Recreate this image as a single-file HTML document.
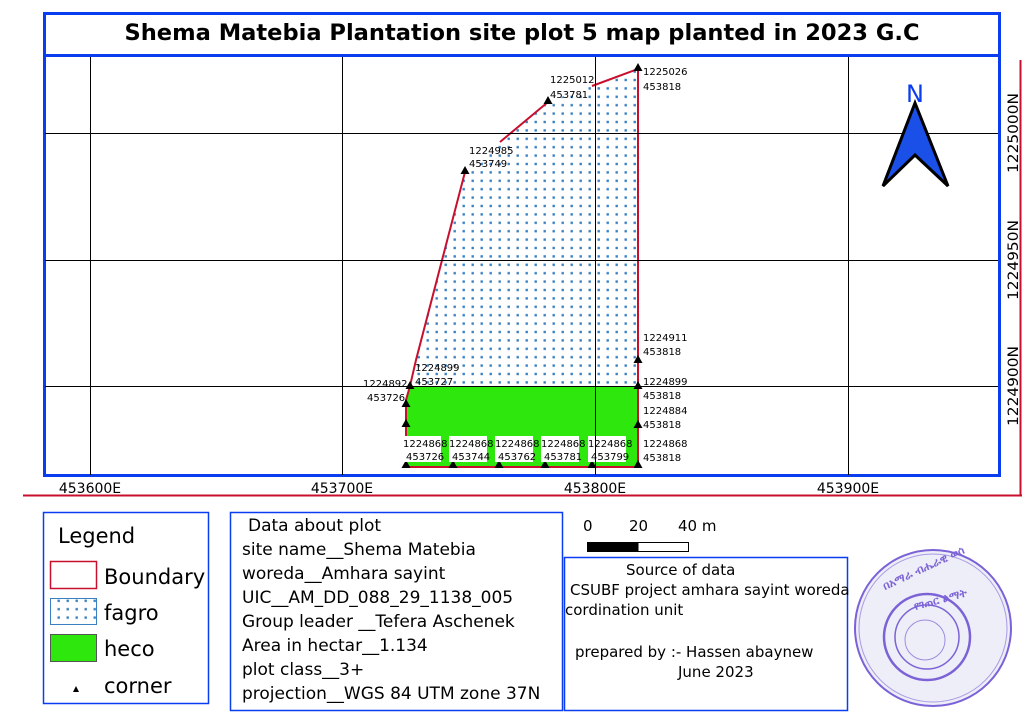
<!DOCTYPE html>
<html><head><meta charset="utf-8"><style>
html,body{margin:0;padding:0;background:#fff;}
svg{display:block;font-family:"DejaVu Sans","Liberation Sans",sans-serif;}
.lb{font-size:10px;fill:#000;}
</style></head><body>
<svg width="1024" height="724" viewBox="0 0 1024 724" xmlns="http://www.w3.org/2000/svg">
<defs>
<pattern id="dots" width="9" height="8.4" patternUnits="userSpaceOnUse">
<rect x="3.5" y="3.2" width="2.4" height="2.4" fill="#3a7fc1"/>
</pattern>
<clipPath id="mc"><rect x="45" y="57" width="953" height="418"/></clipPath>
</defs>
<line x1="23" y1="495.5" x2="1022" y2="495.5" stroke="#c8102e" stroke-width="2"/>
<line x1="1020.5" y1="60" x2="1020.5" y2="496" stroke="#c8102e" stroke-width="2"/>
<rect x="44.5" y="13.5" width="955" height="462" fill="#fff" stroke="#0a3cf0" stroke-width="3"/>
<line x1="44" y1="55.5" x2="1000" y2="55.5" stroke="#0a3cf0" stroke-width="3"/>
<text x="522" y="40" text-anchor="middle" font-size="22" font-weight="bold" fill="#000" textLength="795" lengthAdjust="spacingAndGlyphs">Shema Matebia Plantation site plot 5 map planted in 2023 G.C</text>
<g clip-path="url(#mc)">
<polygon points="410,386 416,360 465,172 548,102 638,69 638,386" fill="url(#dots)"/>
<polygon points="410,387 638,387 638,467 406,467 406,400" fill="#2ee80d"/>
<polyline points="410,386 416,360 465,172" fill="none" stroke="#c8102e" stroke-width="2"/>
<polyline points="500,142 548,102" fill="none" stroke="#c8102e" stroke-width="2"/>
<polyline points="592,86 638,69 638,467 406,467 406,400 410,386" fill="none" stroke="#c8102e" stroke-width="2"/>
<g stroke="#000" stroke-width="1">
<line x1="90.5" y1="57" x2="90.5" y2="475"/><line x1="342.5" y1="57" x2="342.5" y2="475"/>
<line x1="595.5" y1="57" x2="595.5" y2="475"/><line x1="848.5" y1="57" x2="848.5" y2="475"/>
<line x1="45" y1="133.5" x2="998" y2="133.5"/><line x1="45" y1="260.5" x2="998" y2="260.5"/>
<line x1="45" y1="386.5" x2="998" y2="386.5"/>
</g>
<g fill="#000">
<path d="M638,63 l4.5,8 h-9z"/><path d="M548,96 l4.5,8 h-9z"/><path d="M465,166 l4.5,8 h-9z"/>
<path d="M638,355 l4.5,8 h-9z"/><path d="M638,381 l4.5,8 h-9z"/><path d="M638,420 l4.5,8 h-9z"/>
<path d="M638,460 l4.5,8 h-9z"/><path d="M592,460 l4.5,8 h-9z"/><path d="M545,460 l4.5,8 h-9z"/>
<path d="M499,460 l4.5,8 h-9z"/><path d="M453,460 l4.5,8 h-9z"/><path d="M406,460 l4.5,8 h-9z"/>
<path d="M406,419 l4.5,8 h-9z"/><path d="M406,399 l4.5,8 h-9z"/><path d="M410,381 l4.5,8 h-9z"/>
</g>
<g class="lb">
<text x="643" y="75">1225026</text><text x="643" y="90">453818</text>
<text x="550" y="83">1225012</text><text x="550" y="98">453781</text>
<text x="469" y="154">1224985</text><text x="469" y="167">453749</text>
<text x="643" y="341">1224911</text><text x="643" y="355">453818</text>
<text x="415" y="371">1224899</text><text x="415" y="385">453727</text>
<text x="363" y="387">1224892</text><text x="367" y="401">453726</text>
<text x="643" y="385">1224899</text><text x="643" y="399">453818</text>
<text x="643" y="414">1224884</text><text x="643" y="428">453818</text>
<text x="643" y="447">1224868</text><text x="643" y="461">453818</text>
</g>
<g class="lb">
<rect x="403" y="436" width="38" height="26" fill="#fff"/>
<rect x="449" y="436" width="38" height="26" fill="#fff"/>
<rect x="495" y="436" width="38" height="26" fill="#fff"/>
<rect x="541" y="436" width="38" height="26" fill="#fff"/>
<rect x="588" y="436" width="38" height="26" fill="#fff"/>
<text x="403" y="447">1224868</text><text x="406" y="460">453726</text>
<text x="449" y="447">1224868</text><text x="452" y="460">453744</text>
<text x="495" y="447">1224868</text><text x="498" y="460">453762</text>
<text x="541" y="447">1224868</text><text x="544" y="460">453781</text>
<text x="588" y="447">1224868</text><text x="591" y="460">453799</text>
</g>
<line x1="595.5" y1="386" x2="595.5" y2="475" stroke="#000"/>
<text x="915" y="102" text-anchor="middle" font-size="24" fill="#0a3cf0">N</text>
<polygon points="915,103 883,186 915,155 948,186" fill="#1a4fe8" stroke="#000" stroke-width="3"/>
</g>
<g font-size="14" fill="#000" text-anchor="middle">
<text x="90" y="493">453600E</text><text x="342" y="493">453700E</text>
<text x="595" y="493">453800E</text><text x="848" y="493">453900E</text>
<text transform="translate(1018,133) rotate(-90)" textLength="80" lengthAdjust="spacingAndGlyphs">1225000N</text>
<text transform="translate(1018,260) rotate(-90)" textLength="80" lengthAdjust="spacingAndGlyphs">1224950N</text>
<text transform="translate(1018,386) rotate(-90)" textLength="80" lengthAdjust="spacingAndGlyphs">1224900N</text>
</g>
<rect x="43.5" y="512.5" width="165" height="191" fill="#fff" stroke="#0a3cf0" stroke-width="1.5"/>
<g font-size="21" fill="#000">
<text x="58" y="543">Legend</text>
<rect x="50.5" y="561.5" width="46" height="27" fill="#fff" stroke="#c8102e" stroke-width="1.5"/>
<text x="104" y="584">Boundary</text>
<rect x="50.5" y="598.5" width="46" height="26" fill="url(#dots)" stroke="#3a7fc1"/>
<text x="104" y="620">fagro</text>
<rect x="50.5" y="634.5" width="46" height="27" fill="#2ee80d" stroke="#555"/>
<text x="104" y="656">heco</text>
<path d="M76,686 l3,6 h-6z" fill="#000"/>
<text x="104" y="693">corner</text>
</g>
<rect x="230.5" y="512.5" width="332" height="198" fill="#fff" stroke="#0a3cf0" stroke-width="1.5"/>
<g font-size="17" fill="#000">
<text x="248" y="531">Data about plot</text>
<text x="242" y="555">site name__Shema Matebia</text>
<text x="242" y="579">woreda__Amhara sayint</text>
<text x="242" y="603">UIC__AM_DD_088_29_1138_005</text>
<text x="242" y="627">Group leader __Tefera Aschenek</text>
<text x="242" y="651">Area in hectar__1.134</text>
<text x="242" y="675">plot class__3+</text>
<text x="242" y="699">projection__WGS 84 UTM zone 37N</text>
</g>
<g font-size="15" fill="#000">
<text x="583" y="531">0</text><text x="629" y="531">20</text><text x="678" y="531">40 m</text>
</g>
<rect x="587.5" y="542.5" width="101" height="9" fill="#fff" stroke="#000"/>
<rect x="587.5" y="542.5" width="51" height="9" fill="#000"/>
<rect x="564.5" y="557.5" width="283" height="153" fill="#fff" stroke="#0a3cf0" stroke-width="1.5"/>
<g font-size="15" fill="#000">
<text x="626" y="575">Source of data</text>
<text x="570" y="595">CSUBF project amhara sayint woreda</text>
<text x="565" y="615">cordination unit</text>
<text x="575" y="657">prepared by :- Hassen abaynew</text>
<text x="678" y="677">June 2023</text>
</g>
<g fill="none" stroke="#7b62d6">
<circle cx="933" cy="628" r="78" stroke-width="2" fill="#eeeef8"/>
<circle cx="933" cy="628" r="74" stroke-width="1" opacity="0.6"/>
<circle cx="927" cy="637" r="43" stroke-width="2.5"/>
<circle cx="927" cy="637" r="32" stroke-width="1.5"/>
<circle cx="925" cy="640" r="20" stroke-width="1" opacity="0.7"/>
</g>
<g fill="#7b62d6" font-size="11" font-weight="bold">
<text x="885" y="590" transform="rotate(-25 885 590)">በአማራ ብሔራዊ ወሰ</text>
<text x="915" y="610" transform="rotate(-15 915 610)">የገጠር ልማት</text>
</g>
</svg>
</body></html>
